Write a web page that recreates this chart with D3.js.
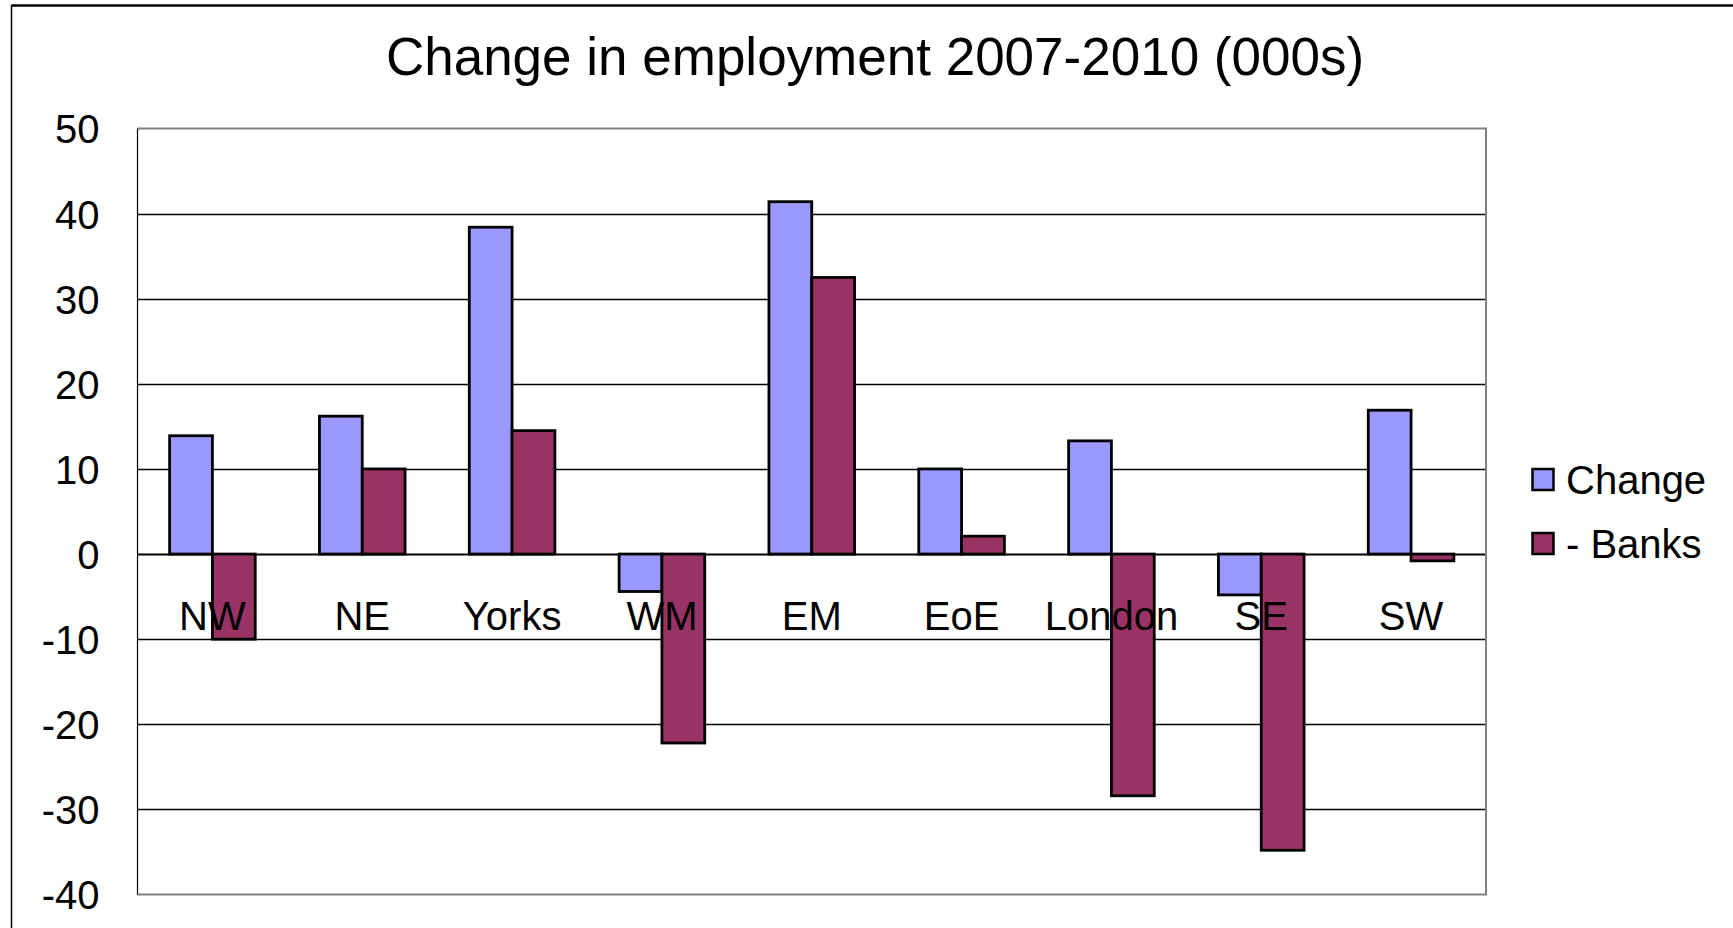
<!DOCTYPE html>
<html>
<head>
<meta charset="utf-8">
<script src="https://cdn.jsdelivr.net/npm/d3@7"></script>
<style>
  html, body { margin: 0; padding: 0; background: #fff; }
  svg { display: block; font-family: "Liberation Sans", Arial, sans-serif; }
</style>
</head>
<body>
<svg id="chart" width="1733" height="928"></svg>
<script>
const categories = ["NW", "NE", "Yorks", "WM", "EM", "EoE", "London", "SE", "SW"];
const seriesNames = ["Change", "- Banks"];
const changeValues = [13.9, 16.2, 38.4, -4.4, 41.4, 10.0, 13.3, -4.8, 16.9];
const banksValues = [-10.0, 10.0, 14.5, -22.2, 32.5, 2.1, -28.4, -34.8, -0.8];
const yTicks = [50, 40, 30, 20, 10, 0, -10, -20, -30, -40];
const seriesColors = ["#9999FF", "#993366"];
const title = "Change in employment 2007-2010 (000s)";

const svg = d3.select("#chart");
const W = 1733, H = 928;
const plot = { left: 137.5, right: 1486, top: 128.5, bottom: 894.5 };

// outer frame (top and left visible)
svg.append("line").attr("x1", 11.5).attr("x2", W).attr("y1", 5.5).attr("y2", 5.5)
  .attr("stroke", "#000").attr("stroke-width", 2.5);
svg.append("line").attr("x1", 11.5).attr("x2", 11.5).attr("y1", 5).attr("y2", H)
  .attr("stroke", "#000").attr("stroke-width", 1.5);

svg.append("text").attr("x", 875).attr("y", 75)
  .attr("text-anchor", "middle").attr("font-size", 53).attr("fill", "#000")
  .text(title);

const x0 = d3.scaleBand().domain(categories)
  .range([plot.left, plot.right]).paddingInner(0.4286).paddingOuter(0.2143);
const x1 = d3.scaleBand().domain(seriesNames).range([0, x0.bandwidth()]).padding(0);
const y = d3.scaleLinear().domain([-40, 50]).range([plot.bottom, plot.top]);

// gridlines
const grid = svg.append("g");
grid.selectAll("line").data(yTicks.filter(t => t !== 50 && t !== -40)).join("line")
  .attr("x1", plot.left).attr("x2", plot.right)
  .attr("y1", d => Math.round(y(d)) + 0.5).attr("y2", d => Math.round(y(d)) + 0.5)
  .attr("stroke", "#000").attr("stroke-width", d => d === 0 ? 2 : 1.3);

// plot border
svg.append("path")
  .attr("d", `M${plot.left},${plot.top}H${plot.right}V${plot.bottom}H${plot.left}`)
  .attr("fill", "none").attr("stroke", "#808080").attr("stroke-width", 2);
svg.append("line").attr("x1", plot.left).attr("x2", plot.left)
  .attr("y1", plot.top).attr("y2", plot.bottom).attr("stroke", "#000").attr("stroke-width", 1.2);

// y axis labels (plain hyphen minus, as in the source)
const yAxis = d3.axisLeft(y).tickValues(yTicks).tickSize(0).tickPadding(38)
  .tickFormat(d => String(d));
const yg = svg.append("g").attr("transform", `translate(${plot.left},0)`).call(yAxis);
yg.select(".domain").remove();
yg.selectAll("text").attr("font-size", 40).attr("font-family", "Liberation Sans, Arial, sans-serif")
  .attr("fill", "#000").attr("dy", "0.36em");

// bars
const rows = categories.map((c, i) => ({ cat: c, vals: [changeValues[i], banksValues[i]] }));
const groups = svg.append("g").selectAll("g").data(rows).join("g")
  .attr("transform", d => `translate(${x0(d.cat)},0)`);
groups.selectAll("rect").data(d => d.vals.map((v, j) => ({ v, s: seriesNames[j], j }))).join("rect")
  .attr("x", d => x1(d.s))
  .attr("width", x1.bandwidth())
  .attr("y", d => Math.min(y(d.v), y(0)))
  .attr("height", d => Math.abs(y(d.v) - y(0)))
  .attr("fill", d => seriesColors[d.j])
  .attr("stroke", "#000").attr("stroke-width", 2.8);

// category labels
const xAxis = d3.axisBottom(x0).tickSize(0).tickPadding(0);
const xg = svg.append("g").attr("transform", `translate(0,${y(0)})`).call(xAxis);
xg.select(".domain").remove();
xg.selectAll("text").attr("font-size", 40).attr("font-family", "Liberation Sans, Arial, sans-serif")
  .attr("fill", "#000").attr("dy", null).attr("y", 76);

// legend
const legend = svg.append("g");
const legendY = [480, 544];
seriesNames.forEach((s, i) => {
  legend.append("rect").attr("x", 1532.5).attr("y", legendY[i] - 11).attr("width", 21).attr("height", 21)
    .attr("fill", seriesColors[i]).attr("stroke", "#000").attr("stroke-width", 2.5);
  legend.append("text").attr("x", 1566).attr("y", legendY[i]).attr("dy", "0.36em")
    .attr("font-size", 40).attr("fill", "#000").text(s);
});
</script>
</body>
</html>
